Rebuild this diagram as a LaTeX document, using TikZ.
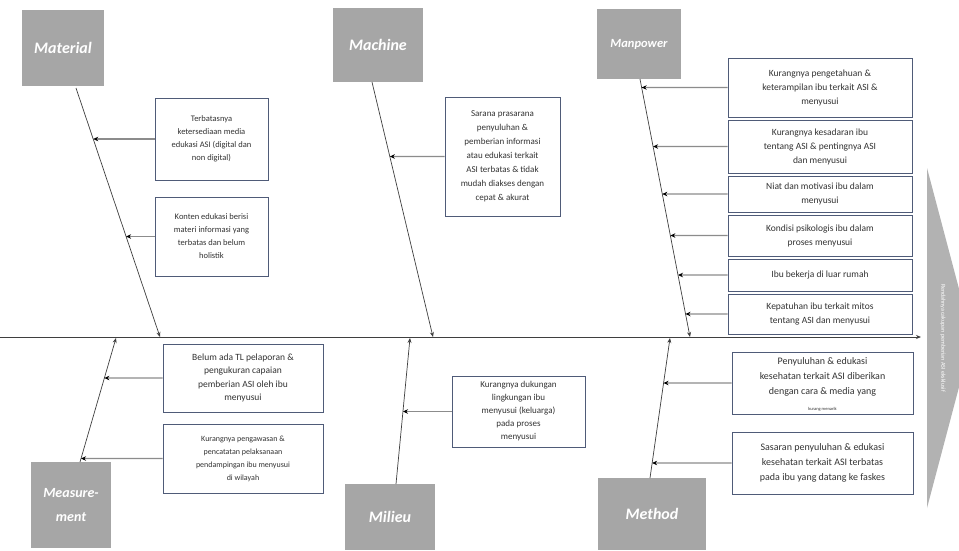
\documentclass[tikz,border=0pt]{standalone}
\usepackage{fontspec}
\setmainfont{Carlito}
\usetikzlibrary{arrows.meta}
\definecolor{catgray}{HTML}{A6A6A6}
\definecolor{boxline}{HTML}{4F5B78}
\definecolor{bonecol}{HTML}{3F3F3F}
\definecolor{subln}{HTML}{8C8C8C}
\definecolor{txt}{HTML}{333333}
\definecolor{headgray}{HTML}{B2B2B2}
\newcommand\subarrow[3]{%
  \coordinate (#1w) at (#1.west);
  \path (#1.west) ++(-300,0) coordinate (#1far);
  \draw[subarr] (#1w) -- (intersection of #2--#3 and #1w--#1far);}
\begin{document}
\begin{tikzpicture}[x=1pt,y=-1pt,
  cat/.style={fill=catgray, text=white, font=\bfseries\itshape, inner sep=0pt, align=center},
  cause/.style={draw=boxline, line width=1pt, fill=white, text=txt, inner sep=0pt, align=center},
  bonearr/.style={draw=bonecol, line width=0.7pt, -{Stealth[length=5pt,width=4pt]}},
  subarr/.style={draw=subln, line width=1.1pt, -{Stealth[length=5pt,width=4.5pt,color=black]}},
  spine/.style={draw=bonecol, line width=0.8pt, -{Stealth[length=5pt,width=4pt]}}
]
\useasboundingbox (0,0) rectangle (959,550);
\fill[white] (0,0) rectangle (959,550);

% arrow head (effect)
\fill[headgray] (927,168) -- (972,338) -- (927,508) -- cycle;
\node[rotate=-90, text=white, font=\fontsize{6}{7}\selectfont] (effect) at (943,338) {Rendahnya cakupan pemberian ASI eksklusif};

% spine
\coordinate (spL) at (0,337);
\coordinate (spR) at (921,337);
\draw[spine] (spL) -- (spR);

% category boxes
\node[cat, minimum width=82pt, minimum height=76pt, font=\fontsize{16}{18}\selectfont\bfseries\itshape] (material) at (63,48) {Material};
\node[cat, minimum width=90pt, minimum height=74pt, font=\fontsize{16}{18}\selectfont\bfseries\itshape] (machine) at (378,45) {Machine};
\node[cat, minimum width=84pt, minimum height=70pt, font=\fontsize{12.5}{15}\selectfont\bfseries\itshape] (manpower) at (639,44) {Manpower};
\node[cat, minimum width=80pt, minimum height=86pt, font=\fontsize{14}{24}\selectfont\bfseries\itshape] (measure) at (71,505) {Measure-\\ment};
\node[cat, minimum width=90pt, minimum height=66pt, font=\fontsize{16}{18}\selectfont\bfseries\itshape] (milieu) at (390,517) {Milieu};
\node[cat, minimum width=108pt, minimum height=72pt, font=\fontsize{16}{18}\selectfont\bfseries\itshape] (method) at (652,514) {Method};

% bones
\coordinate (matA) at (76,88);   \coordinate (matB) at (160,337);
\coordinate (macA) at (372,82);  \coordinate (macB) at (433,337);
\coordinate (manA) at (640,79);  \coordinate (manB) at (690,337);
\coordinate (meaA) at (80,462);  \coordinate (meaB) at (116,338);
\coordinate (milA) at (396,484); \coordinate (milB) at (410,338);
\coordinate (metA) at (650,478); \coordinate (metB) at (670,338);
\draw[bonearr] (matA) -- (matB);
\draw[bonearr] (macA) -- (macB);
\draw[bonearr] (manA) -- (manB);
\draw[bonearr] (meaA) -- (meaB);
\draw[bonearr] (milA) -- (milB);
\draw[bonearr] (metA) -- (metB);

% Material causes
\node[cause, minimum width=113pt, minimum height=82pt, font=\fontsize{8.5}{13}\selectfont] (mat1) at (211.5,139)
  {Terbatasnya\\ketersediaan media\\edukasi ASI (digital dan\\non digital)};
\node[cause, minimum width=113pt, minimum height=79pt, font=\fontsize{8.5}{13}\selectfont] (mat2) at (211.5,236.5)
  {Konten edukasi berisi\\materi informasi yang\\terbatas dan belum\\holistik};

% Machine cause
\node[cause, minimum width=115pt, minimum height=119pt, font=\fontsize{9}{14}\selectfont] (mac1) at (502.5,156.5)
  {Sarana prasarana\\penyuluhan \&\\pemberian informasi\\atau edukasi terkait\\ASI terbatas \& tidak\\mudah diakses dengan\\cepat \& akurat};

% Manpower causes
\node[cause, minimum width=184pt, minimum height=59pt, font=\fontsize{9.5}{14}\selectfont] (man1) at (820,87.5)
  {Kurangnya pengetahuan \&\\keterampilan ibu terkait ASI \&\\menyusui};
\node[cause, minimum width=184pt, minimum height=53pt, font=\fontsize{9.5}{14}\selectfont] (man2) at (820,146.5)
  {Kurangnya kesadaran ibu\\tentang ASI \& pentingnya ASI\\dan menyusui};
\node[cause, minimum width=184pt, minimum height=36pt, font=\fontsize{9.5}{14}\selectfont] (man3) at (820,194)
  {Niat dan motivasi ibu dalam\\menyusui};
\node[cause, minimum width=184pt, minimum height=41pt, font=\fontsize{9.5}{14}\selectfont] (man4) at (820,235.5)
  {Kondisi psikologis ibu dalam\\proses menyusui};
\node[cause, minimum width=184pt, minimum height=32pt, font=\fontsize{9.5}{14}\selectfont] (man5) at (820,275)
  {Ibu bekerja di luar rumah};
\node[cause, minimum width=184pt, minimum height=40pt, font=\fontsize{9.5}{14}\selectfont] (man6) at (820,314)
  {Kepatuhan ibu terkait mitos\\tentang ASI dan menyusui};

% Measurement causes
\node[cause, minimum width=160pt, minimum height=68pt, font=\fontsize{9.5}{13.5}\selectfont] (mea1) at (243,378)
  {Belum ada TL pelaporan \&\\pengukuran capaian\\pemberian ASI oleh ibu\\menyusui};
\node[cause, minimum width=160pt, minimum height=69pt, font=\fontsize{8}{13}\selectfont] (mea2) at (243,458.5)
  {Kurangnya pengawasan \&\\pencatatan pelaksanaan\\pendampingan ibu menyusui\\di wilayah};

% Milieu cause
\node[cause, minimum width=133pt, minimum height=71pt, font=\fontsize{9}{13}\selectfont] (mil1) at (518.5,411.5)
  {Kurangnya dukungan\\lingkungan ibu\\menyusui (keluarga)\\pada proses\\menyusui};

% Method causes
\node[cause, minimum width=181pt, minimum height=62pt, font=\fontsize{10}{15}\selectfont] (met1) at (822.5,383)
  {Penyuluhan \& edukasi\\kesehatan terkait ASI diberikan\\dengan cara \& media yang\\[-1pt]};
\node[text=txt, font=\fontsize{4.5}{5}\selectfont, inner sep=0pt] (met1b) at (822.5,409) {kurang menarik};
\node[cause, minimum width=181pt, minimum height=62pt, font=\fontsize{10}{15}\selectfont] (met2) at (822.5,463)
  {Sasaran penyuluhan \& edukasi\\kesehatan terkait ASI terbatas\\pada ibu yang datang ke faskes};

% sub arrows
\subarrow{mat1}{matA}{matB}
\subarrow{mat2}{matA}{matB}
\subarrow{mac1}{macA}{macB}
\subarrow{man1}{manA}{manB}
\subarrow{man2}{manA}{manB}
\subarrow{man3}{manA}{manB}
\subarrow{man4}{manA}{manB}
\subarrow{man5}{manA}{manB}
\subarrow{man6}{manA}{manB}
\subarrow{mea1}{meaA}{meaB}
\subarrow{mea2}{meaA}{meaB}
\subarrow{mil1}{milA}{milB}
\subarrow{met1}{metA}{metB}
\subarrow{met2}{metA}{metB}
\end{tikzpicture}
\end{document}
